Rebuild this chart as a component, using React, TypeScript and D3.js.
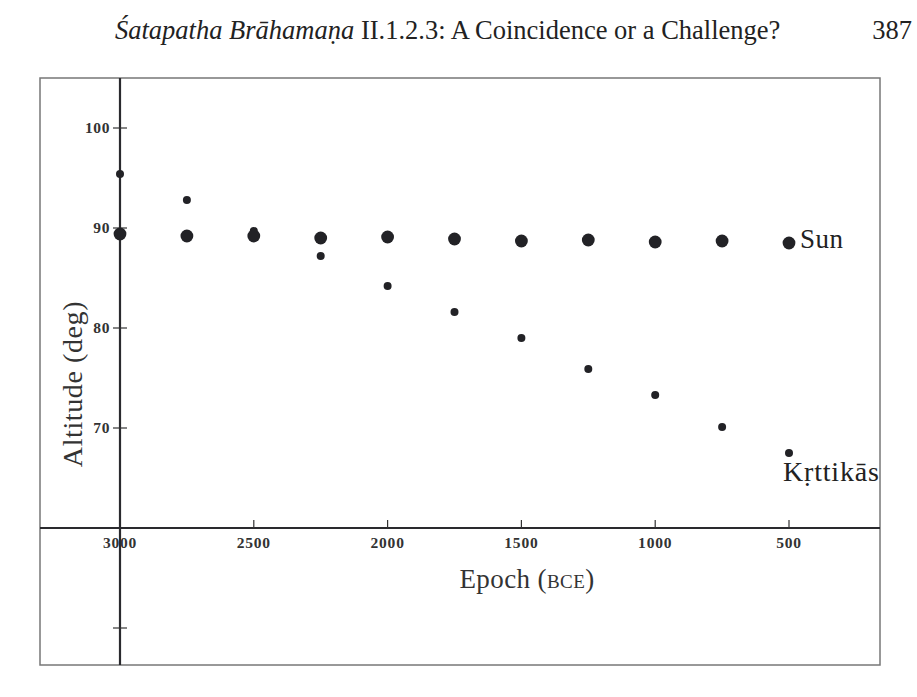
import React from "react";
import { scaleLinear } from "d3";

// Epochs (BCE) and altitudes
const epochs = [3000, 2750, 2500, 2250, 2000, 1750, 1500, 1250, 1000, 750, 500];
const sunAlt = [89.4, 89.2, 89.2, 89.0, 89.1, 88.9, 88.7, 88.8, 88.6, 88.7, 88.5];
const krttikaAlt = [95.4, 92.8, 89.7, 87.2, 84.2, 81.6, 79.0, 75.9, 73.3, 70.1, 67.5];
const xTicks = [3000, 2500, 2000, 1500, 1000, 500];
const yTicks = [100, 90, 80, 70];
const yTicksBelow = [50];

const W = 917;
const H = 697;
const serif = "'Liberation Serif', 'DejaVu Serif', serif";

export default function App() {
  // frame of the figure
  const frame = { left: 40, right: 880, top: 78, bottom: 665 };

  const x = scaleLinear().domain([3000, 500]).range([120, 789]);
  const y = scaleLinear().domain([100, 60]).range([128, 528]);

  const x0 = x(3000);
  const y0 = y(60);

  return (
    <svg
      width={W}
      height={H}
      style={{ position: "absolute", left: 0, top: 0, display: "block", background: "#fff" }}
    >
      {/* running header */}
      <text x={115} y={39} fontFamily={serif} fontSize={26.5} fill="#222">
        <tspan fontStyle="italic">Śatapatha Brāhamaṇa</tspan>
        <tspan> II.1.2.3: A Coincidence or a Challenge?</tspan>
      </text>
      <text x={912} y={39} textAnchor="end" fontFamily={serif} fontSize={26.5} fill="#222">
        387
      </text>

      {/* frame */}
      <rect
        x={frame.left}
        y={frame.top}
        width={frame.right - frame.left}
        height={frame.bottom - frame.top}
        fill="none"
        stroke="#777"
        strokeWidth={1.5}
      />

      {/* axes */}
      <line x1={x0} x2={x0} y1={frame.top} y2={frame.bottom} stroke="#2a2a2e" strokeWidth={2.2} />
      <line x1={frame.left} x2={frame.right} y1={y0} y2={y0} stroke="#2a2a2e" strokeWidth={2.2} />

      {/* y ticks */}
      {yTicks.concat(yTicksBelow).map((t) => (
        <line key={`yt-${t}`} x1={x0 - 7} x2={x0 + 7} y1={y(t)} y2={y(t)} stroke="#333" strokeWidth={1.2} />
      ))}
      {yTicks.map((t) => (
        <text
          key={`yl-${t}`}
          x={x0 - 10}
          y={y(t) + 5}
          textAnchor="end"
          fontFamily={serif}
          fontWeight="bold"
          fontSize={15.5}
          letterSpacing={0.6}
          fill="#333"
        >
          {t}
        </text>
      ))}

      {/* x ticks */}
      {xTicks.map((t) => (
        <g key={`xt-${t}`}>
          {t !== 3000 && (
            <line x1={x(t)} x2={x(t)} y1={y0 - 8} y2={y0} stroke="#333" strokeWidth={1.2} />
          )}
          <text
            x={x(t)}
            y={y0 + 20}
            textAnchor="middle"
            fontFamily={serif}
            fontWeight="bold"
            fontSize={15.5}
            letterSpacing={0.8}
            fill="#333"
          >
            {t}
          </text>
        </g>
      ))}

      {/* axis titles */}
      <text
        transform={`translate(${82}, ${384}) rotate(-90)`}
        textAnchor="middle"
        fontFamily={serif}
        fontSize={28}
        letterSpacing={0.6}
        fill="#333"
      >
        Altitude (deg)
      </text>
      <text
        x={527}
        y={588}
        textAnchor="middle"
        fontFamily={serif}
        fontSize={27}
        letterSpacing={0.4}
        fill="#333"
      >
        Epoch (<tspan fontSize={19}>BCE</tspan>)
      </text>

      {/* Kṛttikās points */}
      {epochs.map((e, i) => (
        <circle key={`k-${e}`} cx={x(e)} cy={y(krttikaAlt[i])} r={4} fill="#222226" />
      ))}

      {/* Sun points */}
      {epochs.map((e, i) => (
        <circle key={`s-${e}`} cx={x(e)} cy={y(sunAlt[i])} r={6.4} fill="#222226" />
      ))}

      {/* series labels */}
      <text
        x={x(500) + 11}
        y={y(sunAlt[sunAlt.length - 1]) + 5}
        fontFamily={serif}
        fontSize={27}
        letterSpacing={0.5}
        fill="#222"
      >
        Sun
      </text>
      <text
        x={x(500) - 6}
        y={y(krttikaAlt[krttikaAlt.length - 1]) + 28}
        fontFamily={serif}
        fontSize={28}
        letterSpacing={0.8}
        fill="#222"
      >
        Kṛttikās
      </text>
    </svg>
  );
}
